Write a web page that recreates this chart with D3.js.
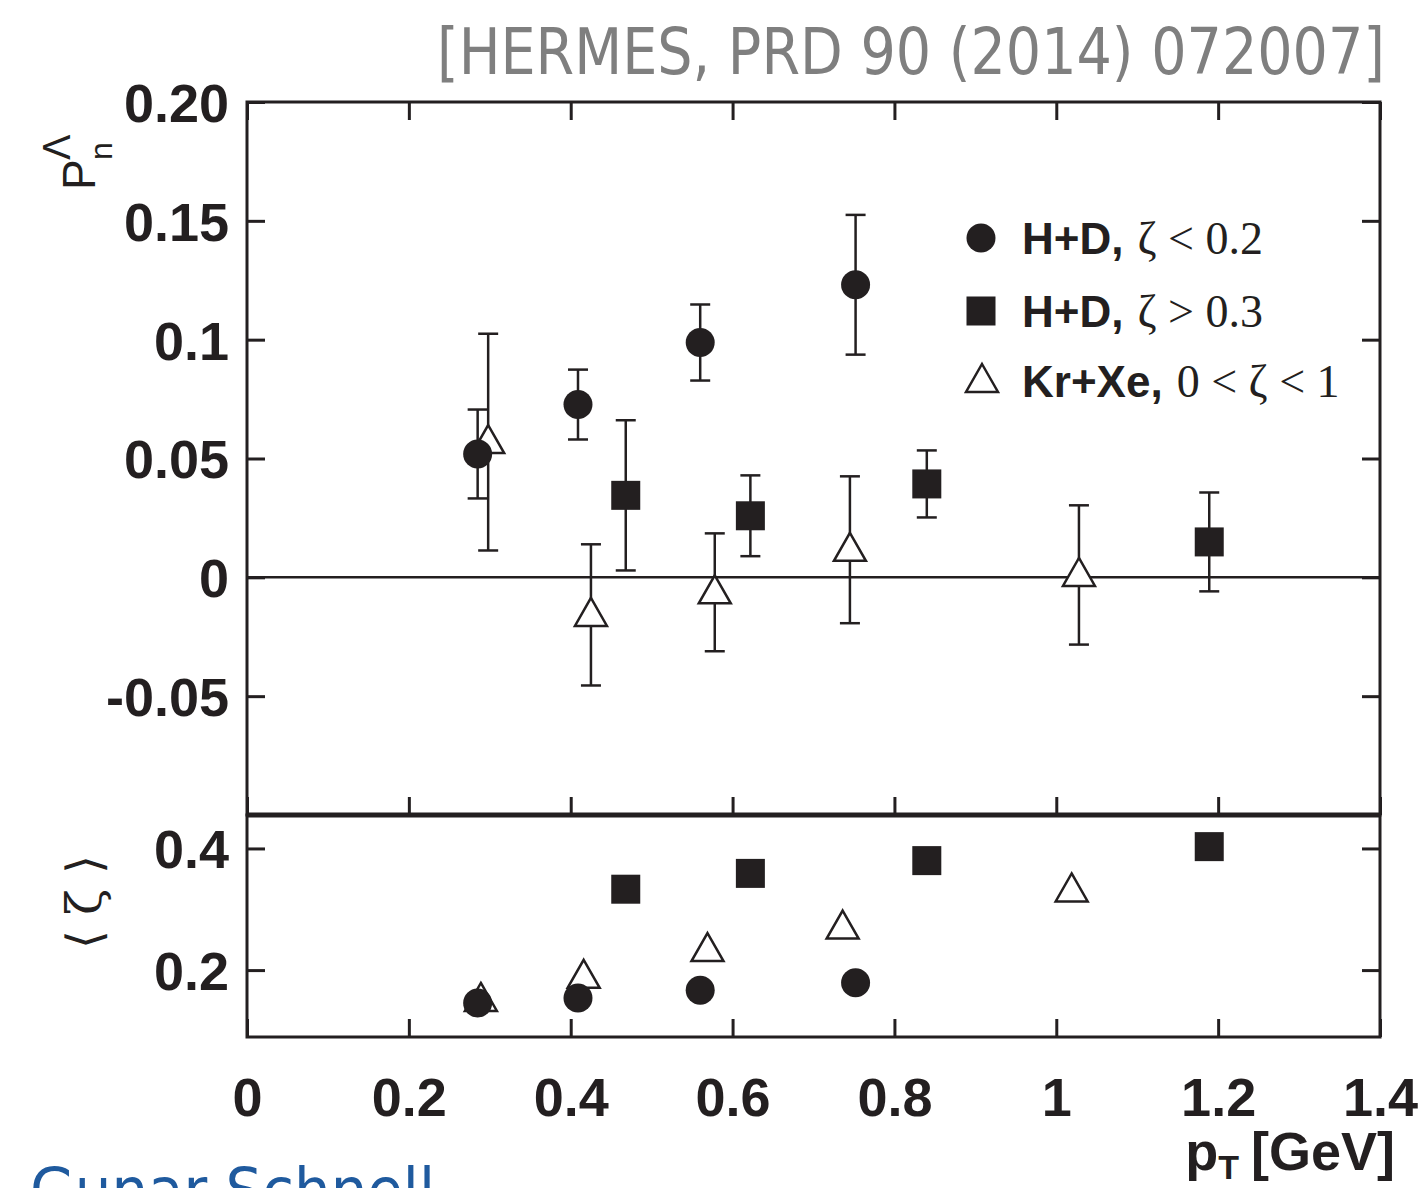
<!DOCTYPE html>
<html>
<head>
<meta charset="utf-8">
<script src="https://cdn.jsdelivr.net/npm/d3@7.9.0/dist/d3.min.js"></script>
<style>
  body { margin: 0; background: #fff; }
  svg { display: block; }
  .tick text { font-family: "Liberation Sans", Arial, sans-serif; font-weight: bold; font-size: 54px; fill: #231f20; }
  .tick line { stroke: #231f20; stroke-width: 3; }
</style>
</head>
<body>
<svg id="chart" width="1423" height="1188"></svg>
<script>
// x ticks (pT in GeV)
const xTicks = [0, 0.2, 0.4, 0.6, 0.8, 1.0, 1.2, 1.4];
const xTickLabels = ["0", "0.2", "0.4", "0.6", "0.8", "1", "1.2", "1.4"];
const topTicks = [0.2, 0.15, 0.1, 0.05, 0, -0.05];
const topTickLabels = ["0.20", "0.15", "0.1", "0.05", "0", "-0.05"];
const botTicks = [0.2, 0.4];
const botTickLabels = ["0.2", "0.4"];

// H+D, zeta < 0.2  (circles)
const lowPt = [0.285, 0.409, 0.560, 0.752];
const lowP = [0.0519, 0.0727, 0.0988, 0.1231];
const lowErr = [0.0187, 0.0147, 0.0160, 0.0294];
const lowZeta = [0.146, 0.154, 0.167, 0.179];

// H+D, zeta > 0.3  (squares)
const highPt = [0.468, 0.622, 0.840, 1.189];
const highP = [0.0345, 0.0259, 0.0393, 0.0149];
const highErr = [0.0316, 0.0170, 0.0141, 0.0208];
const highZeta = [0.333, 0.359, 0.380, 0.403];

// Kr+Xe, 0 < zeta < 1  (open triangles)
const krPt = [0.298, 0.425, 0.578, 0.745, 1.028];
const krP = [0.0569, -0.0158, -0.0063, 0.0116, 0.0010];
const krErr = [0.0456, 0.0297, 0.0248, 0.0309, 0.0293];
const krPtZ = [0.289, 0.416, 0.569, 0.736, 1.019];
const krZeta = [0.151, 0.189, 0.233, 0.270, 0.331];

const ink = "#231f20";
const svg = d3.select("#chart");
svg.append("rect").attr("width", 1423).attr("height", 1188).attr("fill", "#fff");

const x = d3.scaleLinear().domain([0, 1.4]).range([247, 1380]);
const yTop = d3.scaleLinear().domain([-0.1, 0.2]).range([815, 102]);
const yBot = d3.scaleLinear().domain([0.09, 0.455]).range([1037, 815]);

// title
svg.append("text")
  .attr("x", 437).attr("y", 74)
  .attr("textLength", 948).attr("lengthAdjust", "spacingAndGlyphs")
  .style("font-family", "'Liberation Sans Narrow', 'DejaVu Sans Condensed', sans-serif")
  .style("font-size", "64px").attr("fill", "#7f7f7f")
  .text("[HERMES, PRD 90 (2014) 072007]");

// axes, top panel
svg.append("g").attr("transform", "translate(247,0)")
  .call(d3.axisLeft(yTop).tickValues(topTicks).tickSize(-18).tickPadding(18)
    .tickFormat((d, i) => topTickLabels[i]))
  .call(g => g.selectAll("text").attr("dy", "0.36em"));
svg.append("g").attr("transform", "translate(1380,0)")
  .call(d3.axisRight(yTop).tickValues(topTicks).tickSize(-18).tickFormat(""));
svg.append("g").attr("transform", "translate(0,102)")
  .call(d3.axisTop(x).tickValues(xTicks).tickSize(-18).tickFormat(""));
svg.append("g").attr("transform", "translate(0,815)")
  .call(d3.axisBottom(x).tickValues(xTicks).tickSize(18).tickFormat(""))
  .call(g => g.selectAll("line").attr("y2", -18));

// axes, bottom panel
svg.append("g").attr("transform", "translate(247,0)")
  .call(d3.axisLeft(yBot).tickValues(botTicks).tickSize(-18).tickPadding(18)
    .tickFormat((d, i) => botTickLabels[i]))
  .call(g => g.selectAll("text").attr("dy", "0.36em"));
svg.append("g").attr("transform", "translate(1380,0)")
  .call(d3.axisRight(yBot).tickValues(botTicks).tickSize(-18).tickFormat(""));
svg.append("g").attr("transform", "translate(0,1037)")
  .call(d3.axisBottom(x).tickValues(xTicks).tickSize(-18).tickPadding(38)
    .tickFormat((d, i) => xTickLabels[i]))
  .call(g => g.selectAll("text").attr("dy", "0.76em"));

svg.selectAll(".domain").remove();

// frames
svg.append("rect").attr("x", 247).attr("y", 102).attr("width", 1133).attr("height", 713)
  .attr("fill", "none").attr("stroke", ink).attr("stroke-width", 3);
svg.append("rect").attr("x", 247).attr("y", 815).attr("width", 1133).attr("height", 222)
  .attr("fill", "none").attr("stroke", ink).attr("stroke-width", 3);
svg.append("line").attr("x1", 247).attr("x2", 1380).attr("y1", 815).attr("y2", 815)
  .attr("stroke", ink).attr("stroke-width", 5);

// zero line
svg.append("line").attr("x1", x(0)).attr("x2", x(1.4)).attr("y1", yTop(0)).attr("y2", yTop(0))
  .attr("stroke", ink).attr("stroke-width", 2.5);

// error bars
function errorBars(pts, vals, errs) {
  const g = svg.append("g").attr("stroke", ink).attr("stroke-width", 2.5);
  pts.forEach((p, i) => {
    const cx = x(p);
    const hi = yTop(vals[i] + errs[i]);
    const lo = yTop(vals[i] - errs[i]);
    g.append("line").attr("x1", cx).attr("x2", cx).attr("y1", hi).attr("y2", lo);
    g.append("line").attr("x1", cx - 10).attr("x2", cx + 10).attr("y1", hi).attr("y2", hi);
    g.append("line").attr("x1", cx - 10).attr("x2", cx + 10).attr("y1", lo).attr("y2", lo);
  });
}
errorBars(krPt, krP, krErr);
errorBars(lowPt, lowP, lowErr);
errorBars(highPt, highP, highErr);

const triPath = "M0,-17 L16,11 L-16,11 Z";

function triangles(pts, vals, yScale) {
  svg.append("g").selectAll("path").data(pts).join("path")
    .attr("d", triPath)
    .attr("transform", (d, i) => `translate(${x(d)},${yScale(vals[i])})`)
    .attr("fill", "#fff").attr("stroke", ink).attr("stroke-width", 2.5);
}
function circles(pts, vals, yScale) {
  svg.append("g").selectAll("circle").data(pts).join("circle")
    .attr("cx", d => x(d)).attr("cy", (d, i) => yScale(vals[i]))
    .attr("r", 14.5).attr("fill", ink);
}
function squares(pts, vals, yScale) {
  svg.append("g").selectAll("rect").data(pts).join("rect")
    .attr("x", d => x(d) - 14.5).attr("y", (d, i) => yScale(vals[i]) - 14.5)
    .attr("width", 29).attr("height", 29).attr("fill", ink);
}

triangles(krPt, krP, yTop);
circles(lowPt, lowP, yTop);
squares(highPt, highP, yTop);

triangles(krPtZ, krZeta, yBot);
circles(lowPt, lowZeta, yBot);
squares(highPt, highZeta, yBot);

// legend
const legendRows = [
  { bold: "H+D,", rest: "\u03B6 < 0.2", y: 238 },
  { bold: "H+D,", rest: "\u03B6 > 0.3", y: 311 },
  { bold: "Kr+Xe,", rest: "0 < \u03B6 < 1", y: 381 }
];
svg.append("circle").attr("cx", 981).attr("cy", legendRows[0].y).attr("r", 14.5).attr("fill", ink);
svg.append("rect").attr("x", 966.5).attr("y", legendRows[1].y - 14.5).attr("width", 29).attr("height", 29).attr("fill", ink);
svg.append("path").attr("d", triPath).attr("transform", `translate(982,${legendRows[2].y})`)
  .attr("fill", "#fff").attr("stroke", ink).attr("stroke-width", 2.5);
legendRows.forEach(r => {
  const t = svg.append("text").attr("x", 1022).attr("y", r.y + 16).attr("fill", ink);
  t.append("tspan").text(r.bold)
    .style("font-family", "'Liberation Sans', Arial, sans-serif").style("font-weight", "bold").style("font-size", "44px");
  t.append("tspan").attr("dx", 14).text(r.rest)
    .style("font-family", "'Liberation Serif', 'Times New Roman', serif").style("font-size", "46px");
});

// y label top: P_n^Lambda
const yl = svg.append("g").attr("transform", "translate(95,190) rotate(-90)")
  .attr("fill", ink).style("font-family", "'Liberation Sans', Arial, sans-serif");
yl.append("text").attr("x", 0).attr("y", 0).style("font-size", "46px").text("P");
yl.append("text").attr("x", 30).attr("y", 17).style("font-size", "32px").text("n");
yl.append("text").attr("x", 30).attr("y", -25).style("font-size", "38px").text("\u039B");

// y label bottom: <zeta>
svg.append("text").attr("transform", "translate(84,902) rotate(-90)")
  .attr("text-anchor", "middle").attr("dominant-baseline", "central")
  .attr("fill", ink).style("font-family", "'DejaVu Serif', 'Liberation Serif', serif").style("font-size", "48px")
  .text("\u27E8 \u03B6 \u27E9");

// x label
const xl = svg.append("text").attr("x", 1395).attr("y", 1170).attr("text-anchor", "end")
  .attr("fill", ink).style("font-family", "'Liberation Sans', Arial, sans-serif").style("font-weight", "bold");
xl.append("tspan").style("font-size", "54px").text("p");
xl.append("tspan").style("font-size", "34px").attr("dy", 9).text("T");
xl.append("tspan").style("font-size", "54px").attr("dy", -9).attr("dx", 12).text("[GeV]");

// footer (cut off at the page edge, as in the source slide)
svg.append("text").attr("x", 30).attr("y", 1212)
  .attr("textLength", 405).attr("lengthAdjust", "spacingAndGlyphs")
  .style("font-family", "'DejaVu Sans', sans-serif").style("font-size", "62px")
  .attr("fill", "#1f5a9e").text("Gunar Schnell");
</script>
</body>
</html>
